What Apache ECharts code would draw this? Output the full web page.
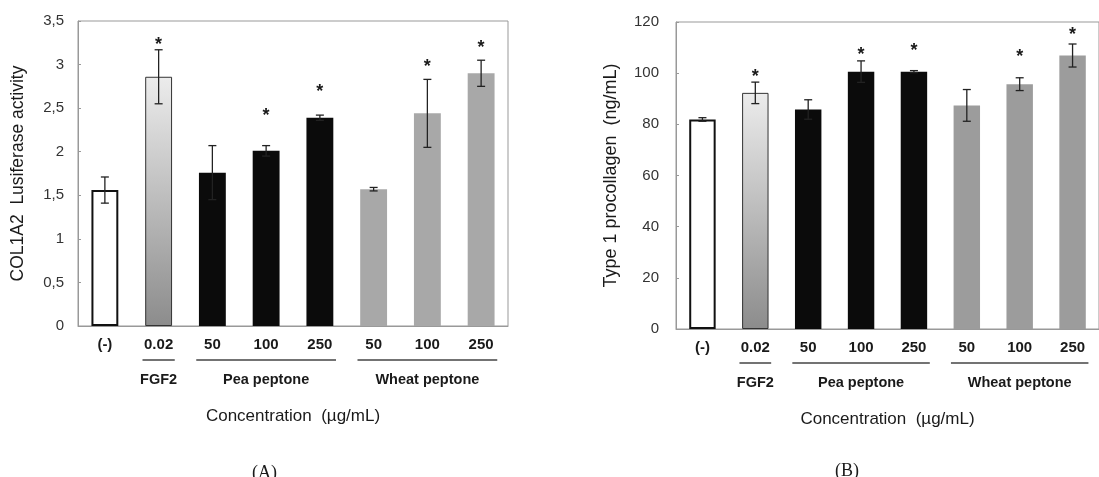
<!DOCTYPE html>
<html>
<head>
<meta charset="utf-8">
<script src="https://cdn.jsdelivr.net/npm/echarts@6/dist/echarts.min.js"></script>
<style>
  html, body { margin: 0; background: #fff; }
  #chart { width: 1099px; height: 477px; }
</style>
</head>
<body>
<div id="chart"></div>
<script>
// categories
const concLabels = ['(-)', '0.02', '50', '100', '250', '50', '100', '250']
const barKind = ['neg', 'fgf', 'pea', 'pea', 'pea', 'wheat', 'wheat', 'wheat']
const groupNames = ['FGF2', 'Pea peptone', 'Wheat peptone']
const groupStart = [1, 2, 5]
const groupEnd = [1, 4, 7]

// (A) COL1A2 luciferase activity
const luciferase = [1.56, 2.86, 1.76, 2.01, 2.39, 1.57, 2.44, 2.90]
const luciferaseErr = [0.15, 0.31, 0.31, 0.06, 0.03, 0.02, 0.39, 0.15]
const luciferaseStar = [null, 3.28, null, 2.47, 2.74, null, 3.03, 3.25]

// (B) type 1 procollagen
const procollagen = [81.9, 92.3, 85.8, 100.6, 100.6, 87.4, 95.7, 106.9]
const procollagenErr = [0.7, 4.2, 3.8, 4.2, 0.4, 6.2, 2.5, 4.5]
const procollagenStar = [null, 100.5, null, 109, 110.5, null, 108.3, 117]

const SANS = 'Liberation Sans, Arial, sans-serif'
const INK = '#1a1a1a'

function barStyle(kind, wheatColor) {
  if (kind === 'neg') return { color: '#fff', borderColor: '#111', borderWidth: 2 }
  if (kind === 'fgf') {
    return {
      color: new echarts.graphic.LinearGradient(0, 0, 0, 1, [
        { offset: 0, color: '#ececec' },
        { offset: 1, color: '#8c8c8c' },
      ]),
      borderColor: '#333',
      borderWidth: 1,
    }
  }
  if (kind === 'pea') return { color: '#0b0b0b' }
  return { color: wheatColor }
}

function errorRender(params, api) {
  const lo = api.coord([api.value(0), api.value(1)])
  const hi = api.coord([api.value(0), api.value(2)])
  const cap = 4
  const style = { stroke: '#222', lineWidth: 1.3 }
  return {
    type: 'group',
    children: [
      { type: 'line', shape: { x1: lo[0], y1: lo[1], x2: hi[0], y2: hi[1] }, style },
      { type: 'line', shape: { x1: hi[0] - cap, y1: hi[1], x2: hi[0] + cap, y2: hi[1] }, style },
      { type: 'line', shape: { x1: lo[0] - cap, y1: lo[1], x2: lo[0] + cap, y2: lo[1] }, style },
    ],
  }
}

function starRender(params, api) {
  const p = api.coord([api.value(0), api.value(1)])
  return {
    type: 'text',
    style: {
      text: '*', x: p[0], y: p[1] + 5,
      align: 'center', verticalAlign: 'middle',
      font: 'bold 18px ' + SANS, fill: INK,
    },
  }
}

function groupRender(params, api) {
  const a = api.coord([api.value(0), 0])
  const b = api.coord([api.value(1), 0])
  const bw = api.size([1, 0])[0]
  const y0 = a[1]
  return {
    type: 'group',
    children: [
      {
        type: 'line',
        shape: { x1: a[0] - bw * 0.3, y1: y0 + 34, x2: b[0] + bw * 0.3, y2: y0 + 34 },
        style: { stroke: '#444', lineWidth: 1.5 },
      },
      {
        type: 'text',
        style: {
          text: groupNames[api.value(2)], x: (a[0] + b[0]) / 2, y: y0 + 54,
          align: 'center', verticalAlign: 'middle',
          font: 'bold 14.5px ' + SANS, fill: INK,
        },
      },
    ],
  }
}

function panelSeries(idx, values, errs, stars, wheatColor) {
  return [
    {
      type: 'bar',
      xAxisIndex: idx, yAxisIndex: idx,
      barWidth: '50%',
      data: values.map((v, i) => ({ value: v, itemStyle: barStyle(barKind[i], wheatColor) })),
    },
    {
      type: 'custom',
      xAxisIndex: idx, yAxisIndex: idx,
      renderItem: errorRender,
      encode: { x: 0, y: [1, 2] },
      data: values.map((v, i) => [i, v - errs[i], v + errs[i]]),
      z: 5,
    },
    {
      type: 'custom',
      xAxisIndex: idx, yAxisIndex: idx,
      renderItem: starRender,
      encode: { x: 0, y: 1 },
      data: stars.map((s, i) => (s == null ? null : [i, s])).filter(d => d),
      z: 6,
    },
    {
      type: 'custom',
      xAxisIndex: idx, yAxisIndex: idx,
      renderItem: groupRender,
      clip: false,
      encode: { x: [0, 1] },
      data: groupNames.map((g, k) => [groupStart[k], groupEnd[k], k]),
    },
  ]
}

function xAxisFor(idx) {
  return {
    type: 'category',
    gridIndex: idx,
    data: concLabels,
    axisTick: { show: false },
    axisLine: { lineStyle: { color: '#999' } },
    axisLabel: { color: INK, fontFamily: SANS, fontWeight: 'bold', fontSize: 15, margin: 11 },
    name: 'Concentration  (\u00b5g/mL)',
    nameLocation: 'middle',
    nameGap: 82,
    nameTextStyle: { color: INK, fontFamily: SANS, fontSize: 17 },
  }
}

function yAxisFor(idx, max, interval, name, gap, labelMargin, nameSize, fmt) {
  return {
    type: 'value',
    gridIndex: idx,
    min: 0, max, interval,
    name,
    nameLocation: 'middle',
    nameRotate: 90,
    nameGap: gap,
    nameTextStyle: { color: INK, fontFamily: SANS, fontSize: nameSize },
    axisLine: { show: true, lineStyle: { color: '#999' } },
    axisTick: { show: true, inside: true, length: 3, lineStyle: { color: '#999' } },
    splitLine: { show: false },
    axisLabel: { color: '#333', fontFamily: SANS, fontSize: 15, margin: labelMargin, formatter: fmt },
  }
}

const chart = echarts.init(document.getElementById('chart'))
chart.setOption({
  animation: false,
  title: [
    { text: '(A)', left: 247, top: 459, textStyle: { fontFamily: 'Liberation Serif, serif', fontWeight: 'normal', fontSize: 18, color: INK } },
    { text: '(B)', left: 830, top: 457, textStyle: { fontFamily: 'Liberation Serif, serif', fontWeight: 'normal', fontSize: 18, color: INK } },
  ],
  grid: [
    { left: 78, top: 21, width: 430, height: 305, show: true, borderColor: '#999', borderWidth: 1 },
    { left: 676, top: 22, width: 435, height: 307, show: true, borderColor: '#999', borderWidth: 1 },
  ],
  xAxis: [xAxisFor(0), xAxisFor(1)],
  yAxis: [
    yAxisFor(0, 3.5, 0.5, 'COL1A2  Lusiferase activity', 51, 14, 17.5, v => String(v).replace('.', ',')),
    yAxisFor(1, 120, 20, 'Type 1 procollagen  (ng/mL)', 56, 17, 18, v => String(v)),
  ],
  series: [
    ...panelSeries(0, luciferase, luciferaseErr, luciferaseStar, '#a8a8a8'),
    ...panelSeries(1, procollagen, procollagenErr, procollagenStar, '#9c9c9c'),
  ],
})
window.addEventListener('resize', () => chart.resize())
</script>
</body>
</html>
